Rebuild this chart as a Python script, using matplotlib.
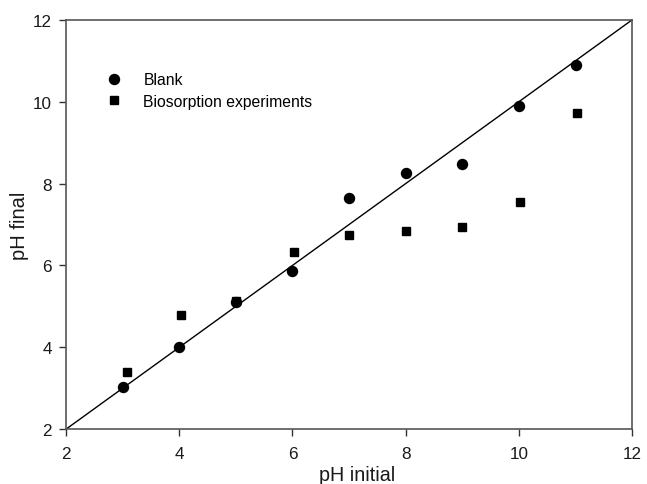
import matplotlib.pyplot as plt
import numpy as np

plt.rcParams['font.family'] = ['Liberation Sans', 'DejaVu Sans']

# data
ph_initial_blank = [3, 4, 5, 6, 7, 8, 9, 10, 11]
ph_final_blank = [3.03, 4.0, 5.11, 5.86, 7.64, 8.26, 8.49, 9.90, 10.90]

ph_initial_bio = [3.07, 4.03, 5.0, 6.02, 7.0, 8.0, 9.0, 10.02, 11.02]
ph_final_bio = [3.40, 4.79, 5.14, 6.32, 6.75, 6.83, 6.93, 7.54, 9.72]

ticks = [2, 4, 6, 8, 10, 12]

fig = plt.figure(figsize=(6.47, 4.85), dpi=100)
ax = fig.add_subplot(111)
plt.subplots_adjust(left=0.102, right=0.977, bottom=0.113, top=0.957)

# 1:1 line
ax.plot([2, 12], [2, 12], color='black', lw=1.0, zorder=1)

ax.plot(ph_initial_blank, ph_final_blank, 'o', color='black', ms=7.2,
        label='Blank', zorder=3)
ax.plot(ph_initial_bio, ph_final_bio, 's', color='black', ms=6.0,
        label='Biosorption experiments', zorder=3)

ax.set_xlim(2, 12)
ax.set_ylim(2, 12)
ax.set_xticks(ticks)
ax.set_yticks(ticks)
ax.tick_params(direction='out', length=5, width=1, labelsize=12.3,
               colors='#333333', labelcolor='#1a1a1a')
ax.tick_params(axis='x', pad=7)
ax.tick_params(axis='y', pad=5)
for s in ax.spines.values():
    s.set_color('#555555')
    s.set_linewidth(1.2)

# keep the x label just inside the bottom edge
ax.set_xlabel('pH initial', fontsize=14.2, color='#1a1a1a', labelpad=3)
ax.xaxis.label.set_x(0.515)
ax.set_ylabel('pH final', fontsize=14.5, color='#1a1a1a', labelpad=3)

ax.legend(loc='upper left', bbox_to_anchor=(0.059, 0.8875), frameon=False,
          fontsize=11.3, handletextpad=1.4, labelspacing=0.42,
          handlelength=1.0, borderaxespad=0)

plt.savefig('out.png', dpi=100)
